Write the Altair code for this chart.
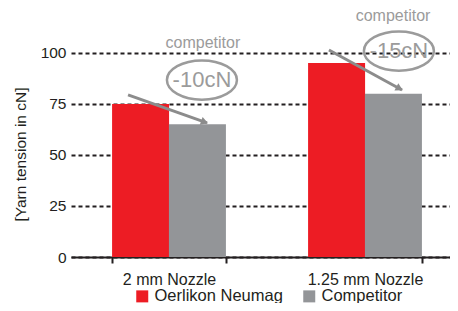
import altair as alt
import pandas as pd

# ---- data ----
nozzles = ["2 mm Nozzle", "1.25 mm Nozzle"]
series = ["Oerlikon Neumag", "Competitor"]
oerlikon = [75, 95]
competitor = [65, 80]
y_ticks = [0, 25, 50, 75, 100]
diff_labels = ["-10cN", "-15cN"]
note_label = ["competitor", "competitor"]
# annotation anchors in data units (x: 0..2 spans the two nozzle groups, y: cN)
note_x = [0.673, 1.643]
note_y = [104.8, 118.1]
oval_x = [0.668, 1.673]
oval_y = [86.7, 100.9]
arrow_x1 = [0.291, 1.316]
arrow_y1 = [79.4, 101.4]
arrow_x2 = [0.694, 1.689]
arrow_y2 = [65.7, 81.8]
head_x = [0.676, 1.671]
head_y = [66.3, 82.8]
head_angle = [109.5, 118]

RED = "#ed1c24"
GRAY = "#939598"
NOTE = "#9b9b9b"
INK = "#231f20"
FONT = "Liberation Sans, Arial, Helvetica, sans-serif"

bars = pd.DataFrame(
    [{"nozzle": n, "series": series[0], "value": v} for n, v in zip(nozzles, oerlikon)]
    + [{"nozzle": n, "series": series[1], "value": v} for n, v in zip(nozzles, competitor)]
)
notes = pd.DataFrame({"x": note_x, "y": note_y, "t": note_label})
ovals = pd.DataFrame({"x": oval_x, "y": oval_y, "t": diff_labels})
arrows = pd.DataFrame({"x1": arrow_x1, "y1": arrow_y1, "x2": arrow_x2, "y2": arrow_y2})
heads = pd.DataFrame({"x": head_x, "y": head_y, "a": head_angle})

PLOT_RANGE = [0, 392]
YDOM = [0, 122]


def ax(field):
    return alt.X(field, scale=alt.Scale(domain=[0, 2], range=PLOT_RANGE, nice=False, zero=False), axis=None)


def ay(field):
    return alt.Y(field, scale=alt.Scale(domain=YDOM, nice=False, zero=False), axis=None)


bar_layer = alt.Chart(bars).mark_bar(size=57).encode(
    x=alt.X(
        "nozzle:N",
        sort=nozzles,
        scale=alt.Scale(range=PLOT_RANGE, paddingInner=0.42, paddingOuter=0.21),
        axis=alt.Axis(
            title=None, labelAngle=0, tickBand="extent", domainColor=INK, domainWidth=2,
            tickColor=INK, tickWidth=2, tickSize=6, labelFontSize=16, labelPadding=8,
            labelColor=INK, labelFont=FONT, grid=False,
        ),
    ),
    xOffset=alt.XOffset("series:N", sort=series),
    y=alt.Y(
        "value:Q",
        scale=alt.Scale(domain=YDOM, nice=False),
        axis=alt.Axis(
            values=y_ticks, title="[Yarn tension in cN]", domain=False, ticks=False,
            grid=True, gridDash=[4, 3], gridColor=INK, gridWidth=2, gridOpacity=1,
            labelFontSize=15.5, labelPadding=5, labelColor=INK, labelFont=FONT,
            titleFontSize=15.5, titleFontWeight="normal", titleColor=INK, titleFont=FONT,
            titlePadding=12, titleY=146,
        ),
    ),
    color=alt.Color(
        "series:N",
        sort=series,
        scale=alt.Scale(domain=series, range=[RED, GRAY]),
        legend=alt.Legend(
            title=None, orient="none", legendX=63, legendY=280, direction="horizontal",
            symbolType="square", symbolSize=144, symbolStrokeWidth=0, labelFontSize=16.5,
            labelColor=INK, labelFont=FONT, columnPadding=18, labelOffset=4, padding=0,
        ),
    ),
)

arrow_layer = alt.Chart(arrows).mark_rule(color="#8c8c8c", strokeWidth=3).encode(
    x=ax("x1:Q"), y=ay("y1:Q"), x2="x2:Q", y2="y2:Q"
)
head_layer = alt.Chart(heads).mark_point(
    shape="triangle", filled=True, color="#8c8c8c", size=70, opacity=1
).encode(x=ax("x:Q"), y=ay("y:Q"), angle=alt.Angle("a:Q", scale=None))

note_layer = alt.Chart(notes).mark_text(
    color=NOTE, fontSize=16, font=FONT, baseline="middle", align="center"
).encode(x=ax("x:Q"), y=ay("y:Q"), text="t:N")

oval_layer = alt.Chart(ovals).mark_point(
    shape="M -1 0 A 1 0.56 0 1 1 1 0 A 1 0.56 0 1 1 -1 0 Z",
    filled=False, color=NOTE, strokeWidth=2.5, size=4900, opacity=1,
).encode(x=ax("x:Q"), y=ay("y:Q"))

oval_text = alt.Chart(ovals).mark_text(
    color=NOTE, fontSize=22, font=FONT, baseline="middle", align="center"
).encode(x=ax("x:Q"), y=ay("y:Q"), text="t:N")

chart = (
    alt.layer(bar_layer, arrow_layer, head_layer, note_layer, oval_layer, oval_text)
    .resolve_scale(x="independent", y="independent")
    .properties(
        width=379, height=249, autosize="none",
        padding={"left": 63, "top": 0, "right": 0, "bottom": 46},
        background="white",
    )
    .configure_view(stroke=None)
)

chart.save("out.html", embed_options={"renderer": "svg", "actions": False})
